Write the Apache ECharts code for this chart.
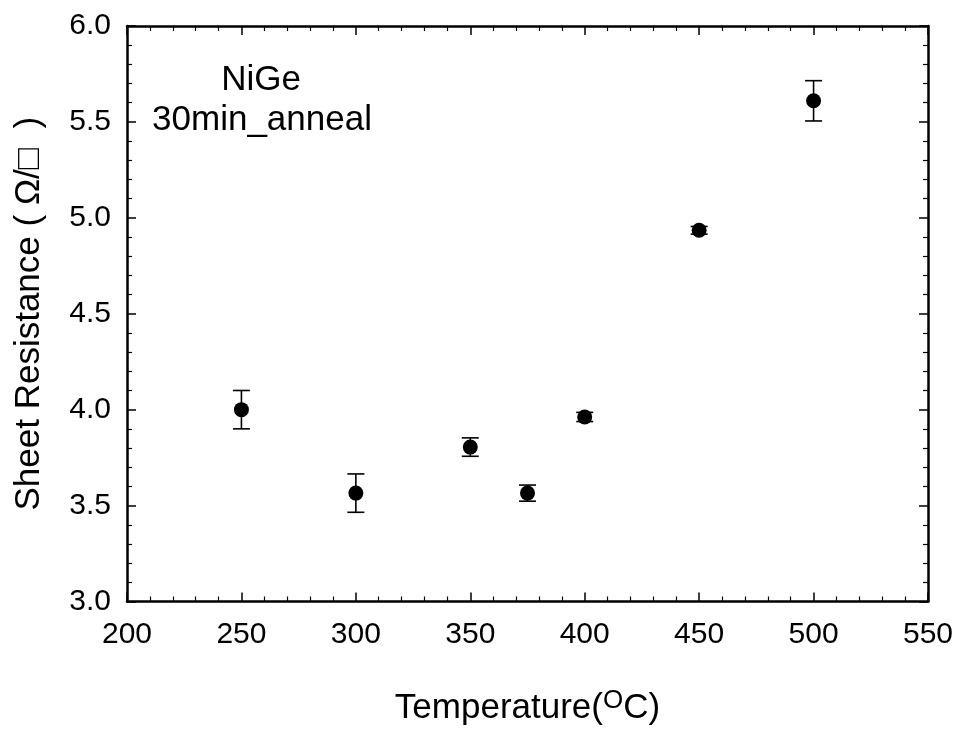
<!DOCTYPE html>
<html><head><meta charset="utf-8">
<script src="https://cdn.jsdelivr.net/npm/echarts@6/dist/echarts.min.js"></script>
<style>html,body{margin:0;padding:0;background:#fff}#c{width:959px;height:731px}</style>
</head><body><div id="c"></div>
<script>
const temps = [250, 300, 350, 375, 400, 450, 500];
const resistance = [4.00, 3.565, 3.805, 3.565, 3.962, 4.935, 5.61];
const errors = [0.10, 0.10, 0.048, 0.042, 0.024, 0.02, 0.105];
const xTicks = [200, 250, 300, 350, 400, 450, 500, 550];
const yTicks = [3.0, 3.5, 4.0, 4.5, 5.0, 5.5, 6.0];

const FONT = 'Liberation Sans, Arial, sans-serif';
const chart = echarts.init(document.getElementById('c'));
const pts = temps.map((t, i) => [t, resistance[i]]);
const errData = temps.map((t, i) => [t, resistance[i] - errors[i], resistance[i] + errors[i]]);

function axisCommon(show) {
  return {
    axisLine: { show: true, onZero: false, lineStyle: { color: '#000', width: 2.5 } },
    axisTick: { show: true, inside: true, length: 9, lineStyle: { color: '#000', width: 1.5 } },
    minorTick: { show: true, splitNumber: 5, length: 5, lineStyle: { color: '#000', width: 1.2 } },
    splitLine: { show: false },
    axisLabel: { show: show, color: '#000', fontSize: 30, fontFamily: FONT }
  };
}

chart.setOption({
  animation: false,
  backgroundColor: '#fff',
  grid: { left: 127, right: 31, top: 26, bottom: 129 },
  title: [
    { text: 'NiGe', left: 256, top: 58, textAlign: 'center',
      textStyle: { fontSize: 35, fontWeight: 'normal', fontFamily: FONT, color: '#000' } },
    { text: '30min_anneal', left: 257, top: 98, textAlign: 'center',
      textStyle: { fontSize: 35, fontWeight: 'normal', fontFamily: FONT, color: '#000' } }
  ],
  xAxis: [
    Object.assign({
      type: 'value', min: xTicks[0], max: xTicks[xTicks.length - 1], interval: 50,
      position: 'bottom',
      name: '{n|Temperature(}{s|O}{n|C)}', nameLocation: 'middle', nameGap: 86,
      nameTextStyle: { rich: {
        n: { fontSize: 35, fontFamily: FONT, color: '#000' },
        s: { fontSize: 26, fontFamily: FONT, color: '#000', verticalAlign: 'top', padding: [0, 0, 16, 0] }
      } }
    }, axisCommon(true), { axisLabel: { show: true, color: '#000', fontSize: 30, fontFamily: FONT, margin: 18 } }),
    Object.assign({
      type: 'value', min: xTicks[0], max: xTicks[xTicks.length - 1], interval: 50, position: 'top'
    }, axisCommon(false))
  ],
  yAxis: [
    Object.assign({
      type: 'value', min: yTicks[0], max: yTicks[yTicks.length - 1], interval: 0.5,
      position: 'left',
      name: 'Sheet Resistance ( Ω/□  )', nameLocation: 'middle', nameGap: 80,
      nameTextStyle: { fontSize: 35, fontFamily: FONT, color: '#000' }
    }, axisCommon(true), { axisLabel: { show: true, color: '#000', fontSize: 30, fontFamily: FONT, margin: 16,
      formatter: v => v.toFixed(1) } }),
    Object.assign({
      type: 'value', min: yTicks[0], max: yTicks[yTicks.length - 1], interval: 0.5, position: 'right'
    }, axisCommon(false))
  ],
  series: [
    {
      type: 'custom',
      xAxisIndex: 0, yAxisIndex: 0,
      data: errData,
      renderItem: function (params, api) {
        const x = api.value(0);
        const lo = api.coord([x, api.value(1)]);
        const hi = api.coord([x, api.value(2)]);
        const w = 8.5;
        const style = { stroke: '#000', lineWidth: 1.6 };
        return { type: 'group', children: [
          { type: 'line', shape: { x1: lo[0], y1: lo[1], x2: hi[0], y2: hi[1] }, style },
          { type: 'line', shape: { x1: lo[0] - w, y1: lo[1], x2: lo[0] + w, y2: lo[1] }, style },
          { type: 'line', shape: { x1: hi[0] - w, y1: hi[1], x2: hi[0] + w, y2: hi[1] }, style }
        ] };
      },
      z: 2
    },
    {
      type: 'scatter', xAxisIndex: 0, yAxisIndex: 0,
      data: pts, symbol: 'circle', symbolSize: 15,
      itemStyle: { color: '#000', opacity: 1 }, z: 3
    }
  ]
});
</script></body></html>
